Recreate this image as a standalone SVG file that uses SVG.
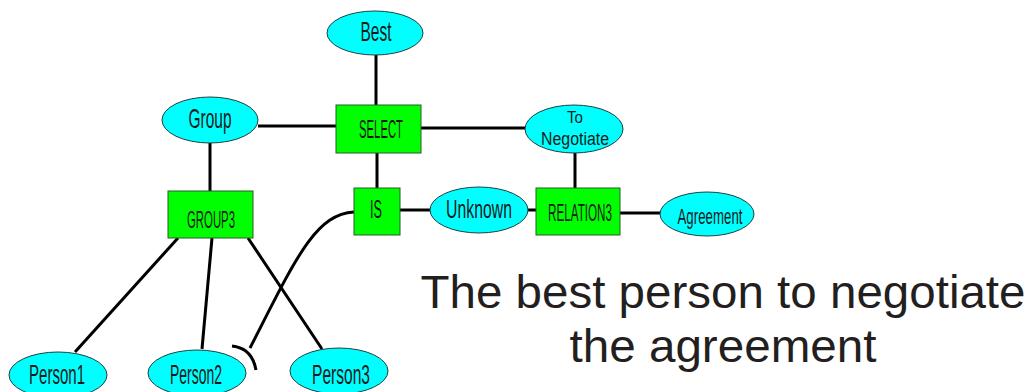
<svg xmlns="http://www.w3.org/2000/svg" width="1032" height="392" viewBox="0 0 1032 392">
<style>
.e{fill:#00ffff;stroke:#1f3f3f;stroke-width:1}
.r{fill:#00ff00;stroke:#2a5a2a;stroke-width:1}
.c{fill:none;stroke:#000;stroke-width:3}
.t{font-family:"Liberation Sans",Arial,sans-serif;fill:#1a1a1a;text-anchor:middle}
.big{font-family:"Liberation Sans",Arial,sans-serif;fill:#231f20;font-size:47px;text-anchor:middle}
</style>
<rect width="1032" height="392" fill="#fff"/>
<g id="connectors">
<line class="c" x1="376" y1="55" x2="376" y2="105"/>
<line class="c" x1="258" y1="126" x2="336" y2="126"/>
<line class="c" x1="421" y1="128" x2="526" y2="128"/>
<line class="c" x1="210" y1="143" x2="210" y2="191"/>
<line class="c" x1="377" y1="153" x2="377" y2="188"/>
<line class="c" x1="575" y1="153" x2="575" y2="188"/>
<line class="c" x1="400" y1="210" x2="431" y2="210"/>
<line class="c" x1="527" y1="210" x2="536" y2="210"/>
<line class="c" x1="620" y1="213" x2="661" y2="213"/>
<line class="c" x1="178" y1="238" x2="75" y2="352"/>
<line class="c" x1="212" y1="238" x2="202" y2="349"/>
<line class="c" x1="248" y1="238" x2="322" y2="349"/>
<path class="c" d="M354,212 C315,214 295,260 250,348"/>
<path class="c" d="M232,346 Q252,348 256,370"/>
</g>
<g id="best"><ellipse class="e" cx="375" cy="33" rx="48" ry="22"/><text class="t" x="376" y="41" font-size="28" textLength="31" lengthAdjust="spacingAndGlyphs">Best</text></g>
<g id="group"><ellipse class="e" cx="210" cy="120" rx="48" ry="23"/><text class="t" x="210" y="128" font-size="28" textLength="43" lengthAdjust="spacingAndGlyphs">Group</text></g>
<g id="select"><rect class="r" x="336" y="105" width="85" height="48"/><text class="t" x="381" y="138" font-size="25" textLength="44" lengthAdjust="spacingAndGlyphs">SELECT</text></g>
<g id="to-negotiate"><ellipse class="e" cx="574" cy="129" rx="49" ry="24"/><text class="t" x="575" y="123" font-size="17" textLength="16" lengthAdjust="spacingAndGlyphs">To</text><text class="t" x="575" y="145" font-size="18" textLength="68" lengthAdjust="spacingAndGlyphs">Negotiate</text></g>
<g id="group3"><rect class="r" x="168" y="191" width="85" height="47"/><text class="t" x="211" y="228" font-size="24" textLength="48" lengthAdjust="spacingAndGlyphs">GROUP3</text></g>
<g id="is"><rect class="r" x="354" y="188" width="46" height="47"/><text class="t" x="376" y="218" font-size="26" textLength="12" lengthAdjust="spacingAndGlyphs">IS</text></g>
<g id="unknown"><ellipse class="e" cx="479" cy="210" rx="49" ry="23"/><text class="t" x="479" y="218" font-size="26" textLength="66" lengthAdjust="spacingAndGlyphs">Unknown</text></g>
<g id="relation3"><rect class="r" x="536" y="188" width="84" height="47"/><text class="t" x="580" y="221" font-size="24" textLength="64" lengthAdjust="spacingAndGlyphs">RELATION3</text></g>
<g id="agreement"><ellipse class="e" cx="707" cy="214" rx="47" ry="22"/><text class="t" x="710" y="224" font-size="22" textLength="65" lengthAdjust="spacingAndGlyphs">Agreement</text></g>
<g id="person1"><ellipse class="e" cx="58" cy="375" rx="49" ry="23"/><text class="t" x="57" y="384" font-size="28" textLength="56" lengthAdjust="spacingAndGlyphs">Person1</text></g>
<g id="person2"><ellipse class="e" cx="197" cy="373" rx="49" ry="23"/><text class="t" x="196" y="384" font-size="28" textLength="52" lengthAdjust="spacingAndGlyphs">Person2</text></g>
<g id="person3"><ellipse class="e" cx="339" cy="371" rx="49" ry="23"/><text class="t" x="341" y="384" font-size="28" textLength="58" lengthAdjust="spacingAndGlyphs">Person3</text></g>
<g id="caption">
<text class="big" x="723" y="308" textLength="605" lengthAdjust="spacingAndGlyphs">The best person to negotiate</text>
<text class="big" x="723" y="362" textLength="307" lengthAdjust="spacingAndGlyphs">the agreement</text>
</g>
</svg>
